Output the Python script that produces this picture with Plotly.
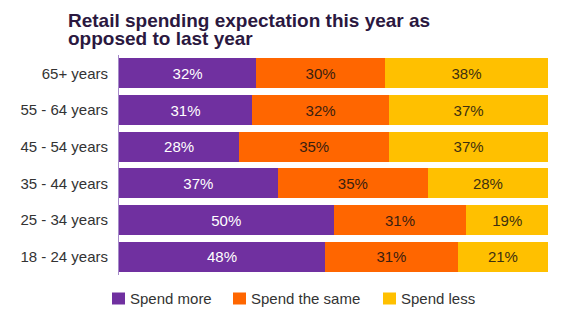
import plotly.graph_objects as go

# Age groups, bottom to top as drawn
age_groups = ["18 - 24 years", "25 - 34 years", "35 - 44 years",
              "45 - 54 years", "55 - 64 years", "65+ years"]

spend_more = [48, 50, 37, 28, 31, 32]
spend_same = [31, 31, 35, 35, 32, 30]
spend_less = [21, 19, 28, 37, 37, 38]

series_names = ["Spend more", "Spend the same", "Spend less"]
series_values = [spend_more, spend_same, spend_less]
bar_colors = ["#7030A0", "#FF6600", "#FFC000"]
label_colors = ["#FFFFFF", "#3A1E10", "#3E3010"]

FONT = "Liberation Sans, Arial, sans-serif"
W, H = 567, 322
L, R, T, B = 119, 19, 55, 47
PW, PH = W - L - R, H - T - B


def px_x(px):
    """Horizontal pixel -> paper coordinate."""
    return (px - L) / PW


def px_y(py):
    """Vertical pixel (from top) -> paper coordinate."""
    return (H - B - py) / PH


fig = go.Figure()
for name, values, color, text_color in zip(series_names, series_values,
                                           bar_colors, label_colors):
    fig.add_trace(go.Bar(
        name=name,
        y=age_groups,
        x=values,
        orientation="h",
        marker=dict(color=color, line=dict(width=0)),
        text=[f"{v}%" for v in values],
        textposition="inside",
        insidetextanchor="middle",
        textfont=dict(family=FONT, size=15, color=text_color),
        hoverinfo="skip",
        showlegend=False,
    ))

# Title, two tightly spaced lines
annotations = []
for text, cy in [("Retail spending expectation this year as", 20.5),
                 ("opposed to last year", 38.5)]:
    annotations.append(dict(
        text=f"<b>{text}</b>", xref="paper", yref="paper",
        x=px_x(66), y=px_y(cy), xanchor="left", yanchor="middle",
        showarrow=False,
        font=dict(family=FONT, size=19, color="#2B1840"),
    ))

# Legend row: colour swatch followed by its label
legend_swatch_x = [112, 233, 383]
legend_cy = 298.5
shapes = []
for name, color, sx in zip(series_names, bar_colors, legend_swatch_x):
    shapes.append(dict(
        type="rect", xref="paper", yref="paper",
        x0=px_x(sx), x1=px_x(sx + 13),
        y0=px_y(legend_cy + 6), y1=px_y(legend_cy - 6),
        fillcolor=color, line=dict(width=0),
    ))
    annotations.append(dict(
        text=name, xref="paper", yref="paper",
        x=px_x(sx + 16), y=px_y(legend_cy), xanchor="left", yanchor="middle",
        showarrow=False,
        font=dict(family=FONT, size=15, color="#333333"),
    ))

fig.update_layout(
    barmode="stack",
    bargap=0.18,
    width=W,
    height=H,
    margin=dict(l=L, r=R, t=T, b=B),
    paper_bgcolor="white",
    plot_bgcolor="white",
    xaxis=dict(range=[0, 100], showgrid=False, showticklabels=False,
               zeroline=False, showline=False, fixedrange=True),
    yaxis=dict(showgrid=False, zeroline=False, showline=True,
               linecolor="#A58BC8", linewidth=1, ticks="",
               ticklabelstandoff=7,
               tickfont=dict(family=FONT, size=15, color="#333333")),
    annotations=annotations,
    shapes=shapes,
    showlegend=False,
    uniformtext=dict(minsize=10, mode="show"),
)

fig.write_html("out.html")
